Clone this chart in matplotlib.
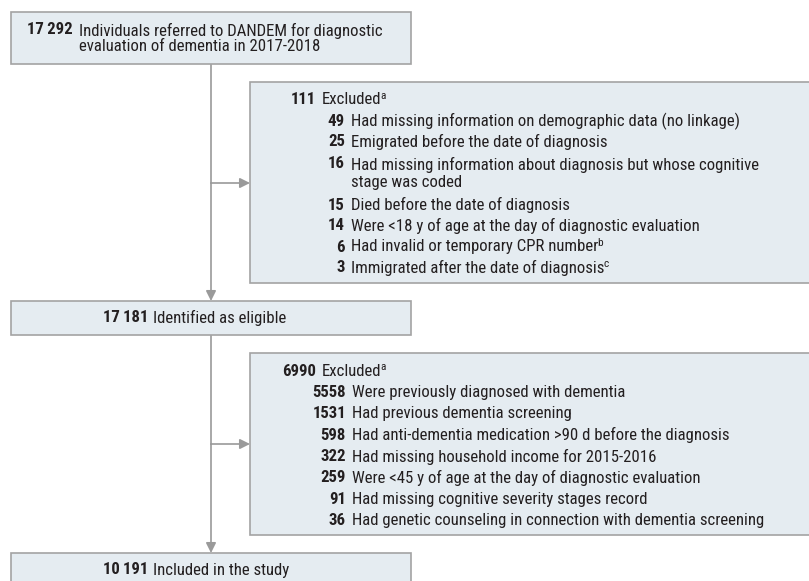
import matplotlib
matplotlib.use("Agg")
import matplotlib.pyplot as plt
from matplotlib.patches import Rectangle
from matplotlib import font_manager

# flow counts and labels
main_counts = ['17\u2009292', '17\u2009181', '10\u2009191']
main_labels = ['Individuals referred to DANDEM for diagnostic\nevaluation of dementia in 2017-2018',
               'Identified as eligible',
               'Included in the study']

excl1_total = '111'
excl1_counts = ['49', '25', '16', '15', '14', '6', '3']
excl1_labels = ['Had missing information on demographic data (no linkage)',
                'Emigrated before the date of diagnosis',
                'Had missing information about diagnosis but whose cognitive\nstage was coded',
                'Died before the date of diagnosis',
                'Were <18 y of age at the day of diagnostic evaluation',
                'Had invalid or temporary CPR number',
                'Immigrated after the date of diagnosis']
excl1_notes = ['', '', '', '', '', 'b', 'c']

excl2_total = '6990'
excl2_counts = ['5558', '1531', '598', '322', '259', '91', '36']
excl2_labels = ['Were previously diagnosed with dementia',
                'Had previous dementia screening',
                'Had anti-dementia medication >90 d before the diagnosis',
                'Had missing household income for 2015-2016',
                'Were <45 y of age at the day of diagnostic evaluation',
                'Had missing cognitive severity stages record',
                'Had genetic counseling in connection with dementia screening']
excl2_notes = [''] * 7

# pick a narrow sans if one is there
names = {f.name for f in font_manager.fontManager.ttflist}
stretch = 'normal'
family = 'Roboto'
for cand in ['Liberation Sans Narrow', 'Roboto Condensed', 'Open Sans Condensed']:
    if cand in names:
        family = cand
        break
else:
    if any(f.name == 'DejaVu Sans' and f.stretch == 'condensed' for f in font_manager.fontManager.ttflist):
        family = 'DejaVu Sans'
        stretch = 'condensed'

plt.rcParams['font.family'] = [family, 'DejaVu Sans']
plt.rcParams['font.stretch'] = stretch

fill = '#e5ecf1'
edge = '#a3a3a3'
line_c = '#9a9a9a'
txt_c = '#231f20'

fig = plt.figure(figsize=(8.09, 5.81), dpi=100)
ax = fig.add_axes([0, 0, 1, 1])
ax.set_xlim(0, 809)
ax.set_ylim(581, 0)
ax.axis('off')
rend = fig.canvas.get_renderer()

# size the font from two reference line widths (366 px and 318 px)
sizes = []
for s, target in [(excl1_labels[0], 366), ('Individuals referred to DANDEM for diagnostic', 318)]:
    probe = ax.text(0, 0, s, fontsize=10)
    sizes.append(10 * target / probe.get_window_extent(rend).width)
    probe.remove()
fs = sum(sizes) / len(sizes)


def label(x, y, s, note='', **kw):
    t = ax.text(x, y, s, fontsize=fs, color=txt_c, va='center', ha='left', **kw)
    if note:
        bb = t.get_window_extent(rend)
        x_end = ax.transData.inverted().transform((bb.x1, bb.y0))[0]
        ax.text(x_end - 1, y - 4, note, fontsize=fs * 0.68, color=txt_c,
                va='center', ha='left')
    return t


def box(x0, y0, x1, y1):
    ax.add_patch(Rectangle((x0, y0), x1 - x0, y1 - y0, facecolor=fill,
                           edgecolor=edge, lw=1.2, zorder=1))


def arrow(x0, y0, x1, y1):
    ax.annotate('', xy=(x1, y1), xytext=(x0, y0),
                arrowprops=dict(arrowstyle='-|>,head_length=0.6,head_width=0.3',
                                color=line_c, lw=1.2, shrinkA=0, shrinkB=0),
                zorder=2)


# main boxes
box(11, 12, 411, 64)
box(11, 301, 411, 335)
box(11, 553, 411, 600)
# exclusion boxes
box(250, 82, 820, 283)
box(250, 353, 820, 535)

# connectors
ax.plot([211, 211], [64, 183], color=line_c, lw=1.2, zorder=0)
arrow(211, 183, 250, 183)
arrow(211, 183, 211, 301)
ax.plot([211, 211], [335, 444], color=line_c, lw=1.2, zorder=0)
arrow(211, 444, 250, 444)
arrow(211, 444, 211, 553)

# main box text
ax.text(73, 30, main_counts[0], fontsize=fs, fontweight='bold', color=txt_c, va='center', ha='right')
label(79, 38.5, main_labels[0], linespacing=1.05)
ax.text(148, 318, main_counts[1], fontsize=fs, fontweight='bold', color=txt_c, va='center', ha='right')
label(153, 318, main_labels[1])
ax.text(148, 570, main_counts[2], fontsize=fs, fontweight='bold', color=txt_c, va='center', ha='right')
label(153, 570, main_labels[2])


def excl_block(total, counts, labels, notes, y0, step, xnum, xsub):
    ax.text(xnum, y0, total, fontsize=fs, fontweight='bold', color=txt_c, va='center', ha='right')
    label(xnum + 6, y0, 'Excluded', 'a')
    y = y0 + step
    for c, lab, nt in zip(counts, labels, notes):
        nl = lab.count('\n') + 1
        yc = y + step * (nl - 1) / 2
        ax.text(xsub, y, c, fontsize=fs, fontweight='bold', color=txt_c, va='center', ha='right')
        label(xsub + 6, yc, lab, nt, linespacing=1.15)
        y += step * nl


excl_block(excl1_total, excl1_counts, excl1_labels, excl1_notes, 100, 21, 316, 345)
excl_block(excl2_total, excl2_counts, excl2_labels, excl2_notes, 371, 21.4, 316, 346)

fig.savefig('out.png', dpi=100)
